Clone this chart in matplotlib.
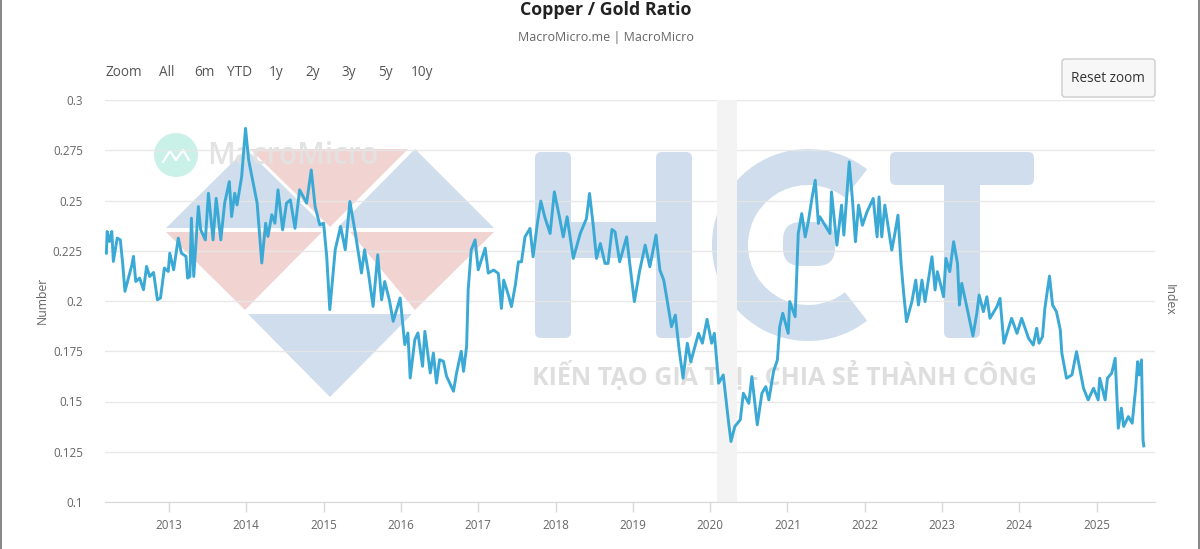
import matplotlib
matplotlib.use("Agg")
import matplotlib.pyplot as plt
from matplotlib.patches import Polygon, FancyBboxPatch, Wedge, Circle, Rectangle

years = [2012.19,2012.20,2012.23,2012.26,2012.28,2012.33,2012.37,2012.40,2012.43,2012.47,2012.52,2012.54,2012.57,2012.62,2012.67,2012.71,2012.75,2012.80,2012.85,2012.89,2012.94,2012.99,
2013.01,2013.06,2013.12,2013.16,2013.22,2013.24,2013.27,2013.29,2013.32,2013.38,2013.41,2013.47,2013.51,2013.57,2013.61,2013.67,2013.72,2013.78,2013.81,2013.85,2013.88,2013.94,2013.99,
2014.03,2014.09,2014.14,2014.20,2014.25,2014.28,2014.33,2014.37,2014.41,2014.47,2014.52,2014.57,2014.63,2014.69,2014.78,2014.84,2014.89,2014.95,
2015.00,2015.04,2015.08,2015.15,2015.22,2015.28,2015.34,2015.41,2015.49,2015.53,2015.58,2015.64,2015.70,2015.75,2015.79,2015.85,2015.90,2015.99,
2016.05,2016.09,2016.12,2016.18,2016.22,2016.28,2016.31,2016.38,2016.42,2016.46,2016.50,2016.55,2016.59,2016.68,2016.72,2016.78,2016.81,2016.85,2016.87,2016.91,2016.96,
2017.00,2017.09,2017.13,2017.20,2017.26,2017.30,2017.33,2017.39,2017.43,2017.48,2017.52,2017.56,2017.605,2017.67,2017.71,2017.765,2017.81,2017.86,2017.93,2017.985,
2018.05,2018.10,2018.15,2018.23,2018.32,2018.40,2018.44,2018.49,2018.53,2018.58,2018.64,2018.68,2018.73,2018.77,2018.83,2018.92,2018.96,
2019.02,2019.09,2019.16,2019.22,2019.30,2019.35,2019.40,2019.44,2019.50,2019.55,2019.60,2019.65,2019.705,2019.75,2019.85,2019.90,2019.96,
2020.02,2020.055,2020.11,2020.17,2020.24,2020.27,2020.32,2020.39,2020.43,2020.50,2020.54,2020.61,2020.67,2020.72,2020.76,2020.82,2020.87,2020.90,2020.94,
2021.01,2021.03,2021.10,2021.14,2021.185,2021.23,2021.27,2021.32,2021.36,2021.40,2021.42,2021.55,2021.57,2021.64,2021.70,2021.73,2021.80,2021.84,2021.88,2021.92,2021.97,
2022.03,2022.11,2022.16,2022.185,2022.22,2022.26,2022.35,2022.39,2022.43,2022.47,2022.50,2022.54,2022.61,2022.66,2022.695,2022.74,2022.78,2022.87,2022.91,2022.94,
2023.02,2023.05,2023.10,2023.15,2023.20,2023.225,2023.255,2023.32,2023.40,2023.45,2023.48,2023.535,2023.58,2023.62,2023.71,2023.75,2023.80,2023.90,2023.97,
2024.03,2024.12,2024.18,2024.225,2024.255,2024.30,2024.33,2024.39,2024.43,2024.48,2024.53,2024.55,2024.61,2024.68,2024.74,2024.83,2024.89,2024.96,
2025.02,2025.04,2025.11,2025.14,2025.195,2025.24,2025.28,2025.32,2025.35,2025.41,2025.46,2025.505,2025.53,2025.55,2025.58,2025.60,2025.61]

ratio = [.2238,.2346,.2296,.2346,.2197,.2313,.2304,.2189,.2048,.2106,.218,.2222,.2097,.2114,.2056,.2172,.2122,.2142,.2006,.2015,.2164,.2147,
.2238,.2155,.2313,.2238,.2222,.2114,.2122,.2412,.2122,.247,.2354,.2304,.2536,.2304,.2511,.2304,.2487,.2594,.242,.2536,.2478,.2619,.2859,
.2702,.2586,.2487,.2189,.2387,.2321,.2429,.2387,.2553,.2354,.2487,.2503,.2362,.2553,.2487,.2652,.247,.2379,
.2387,.2222,.1957,.2255,.2371,.2255,.2495,.2338,.2139,.2255,.2139,.1973,.223,.2006,.2097,.2006,.1899,.2015,
.1783,.1841,.1617,.1808,.1841,.1675,.1849,.1642,.1741,.1592,.1708,.17,.1626,.1551,.1642,.175,.165,.1775,.2056,.2255,.2304,
.2155,.2263,.2139,.2154,.2137,.1963,.2104,.203,.1972,.2079,.2195,.2195,.2319,.2361,.222,.2386,.2497,.2419,.2336,.2543,
.2419,.2319,.2419,.2212,.2336,.241,.2535,.2369,.2212,.2286,.2187,.2187,.2356,.2344,.2195,.2319,.2187,
.1997,.2154,.2278,.217,.2328,.2154,.2104,.2013,.1872,.193,.1756,.1616,.179,.1698,.1839,.179,.1909,
.179,.1839,.1591,.1632,.1392,.1301,.1376,.1409,.1541,.1491,.1624,.1384,.1541,.1574,.1508,.1649,.1707,.1872,.1939,
.1839,.1997,.1922,.2336,.2435,.2319,.2394,.2518,.2601,.2386,.2419,.2336,.2543,.2278,.2477,.2328,.2692,.251,.2295,.2477,.2377,
.2444,.251,.2319,.2518,.2319,.2477,.2253,.2336,.2427,.2187,.2055,.1897,.1997,.2104,.198,.2104,.1997,.222,.2055,.2146,
.2021,.2212,.2146,.2295,.2187,.198,.2088,.1972,.1826,.1939,.203,.1947,.2021,.1914,.1972,.2013,.179,.1914,.1839,
.1914,.1814,.1781,.1864,.179,.1823,.1963,.2124,.198,.1947,.1856,.174,.1616,.1632,.1748,.1566,.1508,.1566,
.1508,.1616,.1508,.1616,.1641,.1715,.1367,.1467,.1376,.1425,.1392,.1566,.1698,.1632,.1707,.1309,.1279]

y_ticks = [0.1, 0.125, 0.15, 0.175, 0.2, 0.225, 0.25, 0.275, 0.3]
y_tick_labels = ["0.1", "0.125", "0.15", "0.175", "0.2", "0.225", "0.25", "0.275", "0.3"]
x_ticks = list(range(2013, 2026))
range_buttons = ["Zoom", "All", "6m", "YTD", "1y", "2y", "3y", "5y", "10y"]
recession_band = (2020.09, 2020.35)

FONT = "Open Sans"
plt.rcParams["font.family"] = [FONT, "DejaVu Sans"]
W, H = 1200, 549
fig = plt.figure(figsize=(W / 100, H / 100), dpi=100, facecolor="white")

# full-figure pixel layer: watermark, selector, borders
bg = fig.add_axes([0, 0, 1, 1], zorder=0)
bg.set_xlim(0, W); bg.set_ylim(H, 0); bg.axis("off")
BLUE, RED = "#cfdded", "#f1d4d2"
tris = [
    ([(166, 228), (246, 149), (326, 228)], BLUE),
    ([(337, 228), (415, 149), (494, 228)], BLUE),
    ([(248, 314), (412, 314), (330, 397)], BLUE),
    ([(166, 232), (322, 232), (245, 310)], RED),
    ([(250, 149), (408, 149), (330, 227)], RED),
    ([(350, 232), (494, 232), (415, 310)], RED),
]
for pts, c in tris:
    bg.add_patch(Polygon(pts, closed=True, fc=c, ec="none"))

def rbox(x0, y0, x1, y1, r=6):
    bg.add_patch(FancyBboxPatch((x0 + r, y0 + r), x1 - x0 - 2 * r, y1 - y0 - 2 * r,
                                boxstyle=f"round,pad={r},rounding_size={r}", fc=BLUE, ec="none"))
rbox(535, 152, 571, 338)
rbox(656, 152, 692, 338)
rbox(560, 222, 670, 258, r=2)
bg.add_patch(Wedge((808, 245), 96, 52, 308, width=36, fc=BLUE, ec="none"))
rbox(783, 222, 835, 266, r=18)
rbox(890, 152, 1034, 185)
rbox(944, 160, 980, 338)

bg.text(784, 376, "KIẾN TẠO GIÁ TRỊ - CHIA SẺ THÀNH CÔNG", ha="center", va="center",
        fontsize=18, fontweight="bold", color="#dedede")
bg.add_patch(Circle((176, 155), 22, fc="#c9f1e8", ec="none"))
bg.plot([163, 170, 176, 183, 189], [162, 151, 160, 150, 160], color="white", lw=1.6)
bg.text(207, 156, "MacroMicro", ha="left", va="center", fontsize=21.5, fontweight="semibold", color="#e2e2e2")

bg.text(606, 10, "Copper / Gold Ratio", ha="center", va="center", fontsize=12.8, fontweight="bold", color="#222222")
bg.text(606, 37, "MacroMicro.me | MacroMicro", ha="center", va="center", fontsize=9.0, color="#666666")
for label, x in zip(range_buttons, [124, 167, 204, 240, 276, 313, 349, 385, 422]):
    bg.text(x, 73, label, ha="center", va="center", fontsize=9.8, color="#555555")
bg.add_patch(FancyBboxPatch((1065, 62), 87, 32, boxstyle="round,pad=3,rounding_size=3", fc="#f7f7f7", ec="#cccccc", lw=1))
bg.text(1108, 78, "Reset zoom", ha="center", va="center", fontsize=9.8, color="#333333")
bg.text(42, 300, "Number", ha="center", va="center", rotation=90, fontsize=8.8, color="#666666")
bg.text(1169, 300, "Index", ha="center", va="center", rotation=270, fontsize=8.8, color="#666666")
bg.add_patch(Rectangle((0, 0), 1.5, H, fc="#8a8a8a", ec="none"))
bg.add_patch(Rectangle((1197.5, 0), 2.5, H, fc="#8a8a8a", ec="none"))

# chart axes
ax = fig.add_axes([105 / W, 1 - 502 / H, 1050 / W, 402 / H], zorder=1)
ax.patch.set_alpha(0)
ax.set_xlim(2012.172, 2025.755)
ax.set_ylim(0.1, 0.3)
ax.axvspan(*recession_band, color="#f3f3f3", lw=0, zorder=1)
ax.grid(axis="y", color="#e6e6e6", lw=1, zorder=2, alpha=0.9)
ax.set_axisbelow(True)
ax.plot(years, ratio, color="#3ba9d5", lw=2.1, solid_joinstyle="round", zorder=3)
for s in ["top", "left", "right"]:
    ax.spines[s].set_visible(False)
ax.spines["bottom"].set_color("#d8d8d8")
ax.set_yticks(y_ticks, y_tick_labels)
ax.set_xticks(x_ticks, [str(y) for y in x_ticks])
ax.tick_params(axis="y", length=0, pad=16, labelsize=8.4, labelcolor="#666666")
ax.tick_params(axis="x", length=7, width=1, color="#d8d8d8", pad=5, labelsize=8.4, labelcolor="#666666")

fig.savefig("out.png", dpi=100)
